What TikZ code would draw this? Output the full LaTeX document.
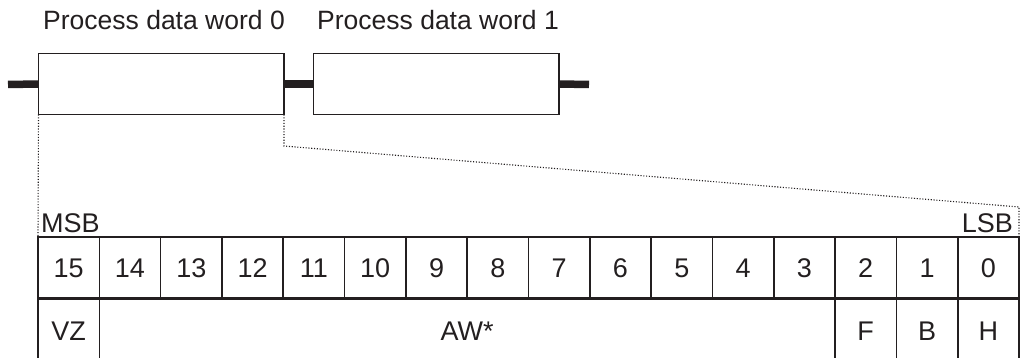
\documentclass[tikz,border=0pt]{standalone}
\usepackage{fontspec}
\setmainfont{Liberation Sans}
\definecolor{ink}{HTML}{231F20}
\begin{document}
\begin{tikzpicture}[x=1pt,y=-1pt,
  every node/.style={text=ink,font=\fontsize{27}{32}\selectfont},
  wordbox/.style={draw=ink,line width=1.8pt,fill=white,minimum width=245.5pt,minimum height=61pt,inner sep=0pt,outer sep=0pt,anchor=north west},
  bus/.style={draw=ink,line width=7.5pt},
  cell/.style={draw=ink,line width=1.6pt,minimum width=61.3125pt,minimum height=63pt,inner sep=0pt,outer sep=0pt,anchor=north west,text height=19.5pt,text depth=0pt},
  topcell/.style={cell,minimum height=60.5pt},
  guide/.style={draw=ink,line width=1.1pt,dash pattern=on 1.1pt off 1.7pt},
  title/.style={anchor=base,font=\fontsize{26.5}{32}\selectfont}
]
\clip (0,0) rectangle (1022,358);
% titles
\node[title] (t0) at (164,30) {Process data word 0};
\node[title] (t1) at (438,30) {Process data word 1};
% bus and words
\coordinate (busL) at (8,84.5);
\coordinate (busR) at (589,84.5);
\node[wordbox] (w0) at (38.5,53.5) {};
\node[wordbox] (w1) at (313.5,53.5) {};
\draw[bus] (busL) -- (w0.west);
\draw[bus] (w0.east) -- (w1.west);
\draw[bus] (w1.east) -- (busR);
% table
\foreach \i in {0,...,15}{
  \pgfmathtruncatemacro{\b}{15-\i}
  \node[topcell] (c\b) at ({38+\i*61.3125},237) {\b};
}
\node[cell,yshift=-1.25pt] (vz) at (38,297.5) {VZ};
\node[cell,yshift=-1.25pt,minimum width=735.75pt] (aw) at (99.3125,297.5) {AW*};
\node[cell,yshift=-1.25pt] (f) at ({38+13*61.3125},297.5) {F};
\node[cell,yshift=-1.25pt] (b) at ({38+14*61.3125},297.5) {B};
\node[cell,yshift=-1.25pt] (h) at ({38+15*61.3125},297.5) {H};
% labels
\node[anchor=base west,inner sep=0pt] (msb) at ([xshift=3pt,yshift=4pt]c15.north west) {MSB};
\node[anchor=base east,inner sep=0pt] (lsb) at ([xshift=-6pt,yshift=4pt]c0.north east) {LSB};
% dotted guide lines
\coordinate (k1) at (284,146);
\coordinate (k2) at (1019,207);
\draw[guide] (w0.south west) -- (c15.north west);
\draw[guide] (w0.south east) -- (k1) -- (k2) -- (c0.north east);
\end{tikzpicture}
\end{document}
